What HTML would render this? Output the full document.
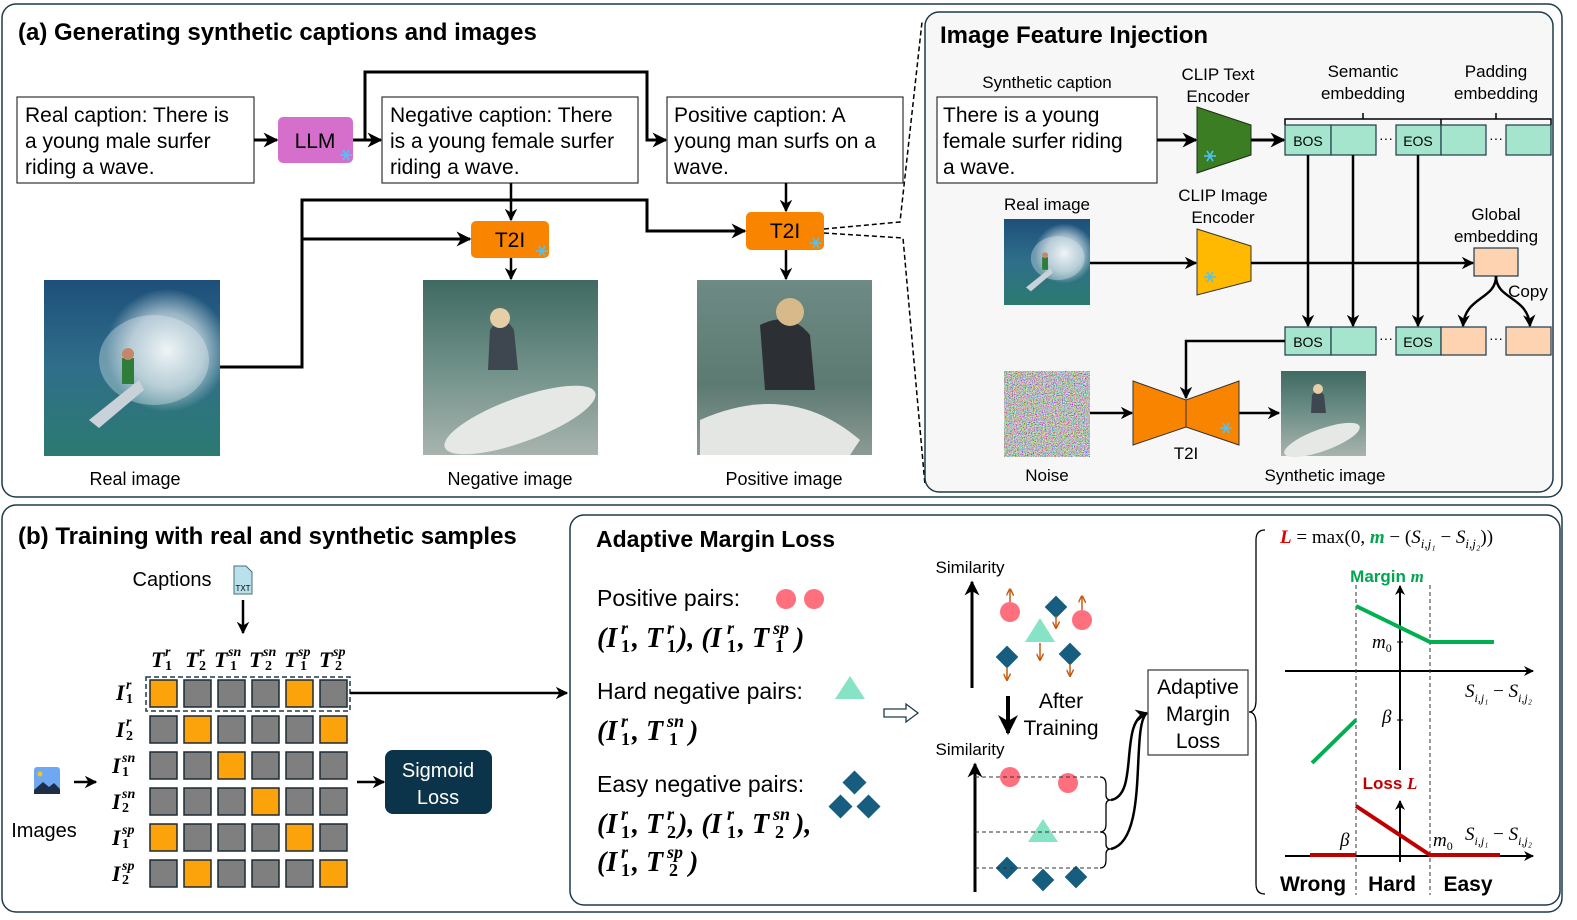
<!DOCTYPE html>
<html><head><meta charset="utf-8"><style>
html,body{margin:0;padding:0;background:#fff;}
svg{display:block;}
text{font-family:"Liberation Sans",sans-serif;fill:#000;}
.m, g.m text{font-family:"Liberation Serif",serif;font-weight:bold;font-style:italic;}
.mr, g.m text.mr{font-family:"Liberation Serif",serif;}
g.m text.mr{font-style:normal;}
</style></head><body>
<svg width="1577" height="920" viewBox="0 0 1577 920" xmlns="http://www.w3.org/2000/svg">
<defs>
<marker id="a" viewBox="0 0 10 10" refX="9" refY="5" markerWidth="5" markerHeight="5" orient="auto-start-reverse"><path d="M0,0 L10,5 L0,10 L3,5z" fill="#000"/></marker>
<marker id="o" viewBox="0 0 10 10" refX="9" refY="5" markerWidth="5" markerHeight="5" orient="auto"><path d="M0,0 L10,5 L0,10" fill="none" stroke="#c55a11" stroke-width="2"/></marker>
<linearGradient id="sea" x1="0" y1="0" x2="0" y2="1"><stop offset="0" stop-color="#1e4f7a"/><stop offset="0.5" stop-color="#2f6f8a"/><stop offset="1" stop-color="#2c7a70"/></linearGradient>
<radialGradient id="spray" cx="0.7" cy="0.4" r="0.35"><stop offset="0" stop-color="#f4f8fa"/><stop offset="0.6" stop-color="#cfdde4" stop-opacity="0.7"/><stop offset="1" stop-color="#cfdde4" stop-opacity="0"/></radialGradient>
<linearGradient id="gw" x1="0" y1="0" x2="0" y2="1"><stop offset="0" stop-color="#3f6a62"/><stop offset="0.5" stop-color="#6f9088"/><stop offset="1" stop-color="#a8b4ae"/></linearGradient>
<linearGradient id="gw2" x1="0" y1="0" x2="0" y2="1"><stop offset="0" stop-color="#6e8a84"/><stop offset="0.6" stop-color="#5c7a72"/><stop offset="1" stop-color="#8d9a95"/></linearGradient>
<filter id="noise" x="0" y="0" width="1" height="1"><feTurbulence type="fractalNoise" baseFrequency="0.9" numOctaves="2" seed="3"/><feColorMatrix type="matrix" values="1.8 0 0 0 -0.4  0 1.8 0 0 -0.4  0 0 1.8 0 -0.4  0 0 0 0 1"/></filter>
<g id="snow"><g stroke="#4fc3f7" stroke-width="1.6"><line x1="-6" y1="0" x2="6" y2="0"/><line x1="-3" y1="-5.2" x2="3" y2="5.2"/><line x1="3" y1="-5.2" x2="-3" y2="5.2"/></g></g>
<g id="real"><rect width="176" height="176" fill="url(#sea)"/><rect width="176" height="176" fill="url(#spray)"/><ellipse cx="110" cy="80" rx="55" ry="45" fill="#e8f0f3" opacity="0.35"/><path d="M45,140 L95,100 L100,110 L55,148z" fill="#c9d2d8"/><rect x="78" y="78" width="12" height="26" fill="#2e7d3a"/><circle cx="84" cy="74" r="6" fill="#c4876a"/></g>
</defs>

<rect x="2" y="4" width="1560" height="493" rx="14" fill="#fff" stroke="#1d3a4a" stroke-width="1.5"/>
<text x="18" y="40" font-size="24" font-weight="bold">(a) Generating synthetic captions and images</text>

<rect x="17" y="97" width="237" height="86" fill="#fff" stroke="#333" stroke-width="1.2"/>
<text font-size="21"><tspan x="25" y="122">Real caption: There is</tspan><tspan x="25" y="148">a young male surfer</tspan><tspan x="25" y="174">riding a wave.</tspan></text>
<rect x="278" y="117" width="75" height="46" rx="5" fill="#d66fcc"/>
<text x="315" y="148" font-size="21" text-anchor="middle">LLM</text>
<use href="#snow" x="346" y="155"/>
<line x1="254" y1="140" x2="277" y2="140" stroke="#000" stroke-width="3" marker-end="url(#a)"/>
<line x1="353" y1="140" x2="381" y2="140" stroke="#000" stroke-width="3" marker-end="url(#a)"/>
<polyline points="365,140 365,72 647,72 647,140 666,140" fill="none" stroke="#000" stroke-width="3" marker-end="url(#a)"/>

<rect x="382" y="97" width="256" height="86" fill="#fff" stroke="#333" stroke-width="1.2"/>
<text font-size="21"><tspan x="390" y="122">Negative caption: There</tspan><tspan x="390" y="148">is a young female surfer</tspan><tspan x="390" y="174">riding a wave.</tspan></text>
<rect x="667" y="97" width="236" height="86" fill="#fff" stroke="#333" stroke-width="1.2"/>
<text font-size="21"><tspan x="674" y="122">Positive caption: A</tspan><tspan x="674" y="148">young man surfs on a</tspan><tspan x="674" y="174">wave.</tspan></text>

<rect x="471" y="221" width="78" height="37" rx="5" fill="#f98400"/>
<text x="510" y="247" font-size="21" text-anchor="middle">T2I</text><use href="#snow" x="542" y="251"/>
<rect x="746" y="212" width="78" height="38" rx="5" fill="#f98400"/>
<text x="785" y="238" font-size="21" text-anchor="middle">T2I</text><use href="#snow" x="816" y="243"/>

<line x1="511" y1="183" x2="511" y2="220" stroke="#000" stroke-width="2.5" marker-end="url(#a)"/>
<line x1="786" y1="183" x2="786" y2="211" stroke="#000" stroke-width="2.5" marker-end="url(#a)"/>
<polyline points="220,367 302,367 302,200 647,200 647,231 745,231" fill="none" stroke="#000" stroke-width="3" marker-end="url(#a)"/>
<line x1="302" y1="239" x2="470" y2="239" stroke="#000" stroke-width="3" marker-end="url(#a)"/>
<line x1="511" y1="258" x2="511" y2="279" stroke="#000" stroke-width="2.5" marker-end="url(#a)"/>
<line x1="786" y1="250" x2="786" y2="279" stroke="#000" stroke-width="2.5" marker-end="url(#a)"/>

<use href="#real" x="44" y="280"/>
<rect x="423" y="280" width="175" height="175" fill="url(#gw)"/>
<ellipse cx="520" cy="420" rx="80" ry="22" fill="#e6e8e6" transform="rotate(-20 520 420)"/>
<path d="M490,330 q12,-20 24,0 l4,40 l-30,0z" fill="#3e4650"/><circle cx="500" cy="318" r="10" fill="#e6cfa6"/>
<rect x="697" y="280" width="175" height="175" fill="url(#gw2)"/>
<path d="M700,420 Q790,380 860,440 L850,455 L700,455z" fill="#e4e6e4"/>
<path d="M760,325 q30,-15 50,10 l5,55 l-50,0z" fill="#2c3034"/><circle cx="790" cy="312" r="14" fill="#d8b98a"/>

<text x="135" y="485" font-size="18" text-anchor="middle">Real image</text>
<text x="510" y="485" font-size="18" text-anchor="middle">Negative image</text>
<text x="784" y="485" font-size="18" text-anchor="middle">Positive image</text>

<polyline points="824,229 900,222 922,22" fill="none" stroke="#000" stroke-width="1.5" stroke-dasharray="5,3"/>
<polyline points="824,233 903,238 925,485" fill="none" stroke="#000" stroke-width="1.5" stroke-dasharray="5,3"/>

<rect x="925" y="12" width="628" height="480" rx="14" fill="#f7f7f7" stroke="#1d3a4a" stroke-width="1.5"/>
<text x="940" y="43" font-size="24" font-weight="bold">Image Feature Injection</text>
<text x="1047" y="88" font-size="17" text-anchor="middle">Synthetic caption</text>
<rect x="937" y="97" width="220" height="86" fill="#fff" stroke="#333" stroke-width="1.2"/>
<text font-size="21"><tspan x="943" y="122">There is a young</tspan><tspan x="943" y="148">female surfer riding</tspan><tspan x="943" y="174">a wave.</tspan></text>
<text font-size="17" text-anchor="middle"><tspan x="1218" y="80">CLIP Text</tspan><tspan x="1218" y="102">Encoder</tspan></text>
<polygon points="1197,107 1251,125 1251,155 1197,173" fill="#3a7d22" stroke="#1e2e1a"/>
<use href="#snow" x="1210" y="156"/>
<line x1="1157" y1="140" x2="1196" y2="140" stroke="#000" stroke-width="3" marker-end="url(#a)"/>
<line x1="1251" y1="140" x2="1284" y2="140" stroke="#000" stroke-width="3" marker-end="url(#a)"/>

<text font-size="17" text-anchor="middle"><tspan x="1363" y="77">Semantic</tspan><tspan x="1363" y="99">embedding</tspan><tspan x="1496" y="77">Padding</tspan><tspan x="1496" y="99">embedding</tspan></text>
<path d="M1285,125 v-6 h156 M1363,119 v-6 M1441,125 v-6 h110 v6 M1496,119 v-6" fill="none" stroke="#000" stroke-width="1.5"/>

<g stroke="#1d3a4a" stroke-width="1.2" fill="#a6e5cd">
<rect x="1285" y="125" width="46" height="30"/><rect x="1331" y="125" width="45" height="30"/>
<rect x="1396" y="125" width="45" height="30"/><rect x="1441" y="125" width="45" height="30"/><rect x="1506" y="125" width="45" height="30"/>
<rect x="1285" y="327" width="46" height="28"/><rect x="1331" y="327" width="45" height="28"/><rect x="1396" y="327" width="45" height="28"/>
<rect x="1441" y="327" width="45" height="28" fill="#fdd3b2"/><rect x="1506" y="327" width="45" height="28" fill="#fdd3b2"/>
<rect x="1474" y="248" width="44" height="28" fill="#fdd3b2"/>
</g>
<text font-size="14" text-anchor="middle"><tspan x="1308" y="146">BOS</tspan><tspan x="1418" y="146">EOS</tspan><tspan x="1308" y="347">BOS</tspan><tspan x="1418" y="347">EOS</tspan></text>
<text font-size="14" text-anchor="middle"><tspan x="1386" y="143">···</tspan><tspan x="1496" y="143">···</tspan><tspan x="1386" y="343">···</tspan><tspan x="1496" y="343">···</tspan></text>

<text x="1047" y="210" font-size="17" text-anchor="middle">Real image</text>
<svg x="1004" y="219" width="86" height="86" viewBox="0 0 176 176"><use href="#real"/></svg>
<text font-size="17" text-anchor="middle"><tspan x="1223" y="201">CLIP Image</tspan><tspan x="1223" y="223">Encoder</tspan></text>
<polygon points="1197,229 1251,246 1251,281 1197,295" fill="#ffb900" stroke="#333"/>
<use href="#snow" x="1210" y="277"/>
<line x1="1090" y1="263" x2="1196" y2="263" stroke="#000" stroke-width="2.5" marker-end="url(#a)"/>
<line x1="1251" y1="263" x2="1473" y2="263" stroke="#000" stroke-width="2.5" marker-end="url(#a)"/>
<text font-size="17" text-anchor="middle"><tspan x="1496" y="220">Global</tspan><tspan x="1496" y="242">embedding</tspan></text>
<g stroke="#000" stroke-width="2.5" fill="none">
<line x1="1308" y1="155" x2="1308" y2="326" marker-end="url(#a)"/>
<line x1="1353" y1="155" x2="1353" y2="326" marker-end="url(#a)"/>
<line x1="1418" y1="155" x2="1418" y2="326" marker-end="url(#a)"/>
<path d="M1496,276 C1496,300 1465,296 1463,326" marker-end="url(#a)"/>
<path d="M1496,276 C1496,300 1528,296 1530,326" marker-end="url(#a)"/>
<polyline points="1285,341 1186,341 1186,398" marker-end="url(#a)"/>
<line x1="1090" y1="413" x2="1132" y2="413" marker-end="url(#a)"/>
<line x1="1239" y1="413" x2="1279" y2="413" marker-end="url(#a)"/>
</g>
<text x="1528" y="297" font-size="17" text-anchor="middle">Copy</text>
<rect x="1004" y="371" width="86" height="86" filter="url(#noise)" fill="#888"/>
<text x="1047" y="481" font-size="17" text-anchor="middle">Noise</text>
<polygon points="1133,381 1186,400 1239,381 1239,445 1186,427 1133,445" fill="#f98400" stroke="#333"/>
<line x1="1186" y1="400" x2="1186" y2="427" stroke="#333"/>
<use href="#snow" x="1226" y="428"/>
<text x="1186" y="459" font-size="17" text-anchor="middle">T2I</text>
<rect x="1281" y="371" width="85" height="85" fill="url(#gw)"/>
<ellipse cx="1322" cy="440" rx="40" ry="11" fill="#e6e8e6" transform="rotate(-20 1322 440)"/>
<path d="M1312,395 q6,-8 12,0 l2,18 l-15,0z" fill="#3e4650"/><circle cx="1318" cy="389" r="5" fill="#e6cfa6"/>
<text x="1325" y="481" font-size="17" text-anchor="middle">Synthetic image</text>

<rect x="2" y="505" width="1560" height="407" rx="14" fill="#fff" stroke="#1d3a4a" stroke-width="1.5"/>
<text x="18" y="544" font-size="24" font-weight="bold">(b) Training with real and synthetic samples</text>
<text x="172" y="586" font-size="20" text-anchor="middle">Captions</text>
<path d="M234,566 h12 l6,6 v22 h-18z" fill="#b9e1ec" stroke="#4a6e7a"/><text x="243" y="591" font-size="8" text-anchor="middle">TXT</text>
<line x1="243" y1="600" x2="243" y2="633" stroke="#000" stroke-width="2.5" marker-end="url(#a)"/>

<g class="m" font-size="22">
<text x="151" y="667">T</text><text x="165" y="656" font-size="14">r</text><text x="165" y="670" font-size="14" class="mr">1</text>
<text x="185" y="667">T</text><text x="199" y="656" font-size="14">r</text><text x="199" y="670" font-size="14" class="mr">2</text>
<text x="214" y="667">T</text><text x="228" y="656" font-size="14">sn</text><text x="230" y="670" font-size="14" class="mr">1</text>
<text x="249" y="667">T</text><text x="263" y="656" font-size="14">sn</text><text x="265" y="670" font-size="14" class="mr">2</text>
<text x="284" y="667">T</text><text x="298" y="656" font-size="14">sp</text><text x="300" y="670" font-size="14" class="mr">1</text>
<text x="319" y="667">T</text><text x="333" y="656" font-size="14">sp</text><text x="335" y="670" font-size="14" class="mr">2</text>
<text x="116" y="700">I</text><text x="126" y="689" font-size="14">r</text><text x="126" y="703" font-size="14" class="mr">1</text>
<text x="116" y="737">I</text><text x="126" y="726" font-size="14">r</text><text x="126" y="740" font-size="14" class="mr">2</text>
<text x="112" y="773">I</text><text x="122" y="762" font-size="14">sn</text><text x="122" y="776" font-size="14" class="mr">1</text>
<text x="112" y="809">I</text><text x="122" y="798" font-size="14">sn</text><text x="122" y="812" font-size="14" class="mr">2</text>
<text x="112" y="845">I</text><text x="122" y="834" font-size="14">sp</text><text x="122" y="848" font-size="14" class="mr">1</text>
<text x="112" y="881">I</text><text x="122" y="870" font-size="14">sp</text><text x="122" y="884" font-size="14" class="mr">2</text>
</g>

<g stroke="#1d2a33" stroke-width="1.5" fill="#7f7f7f">
<rect x="150" y="680" width="27" height="27" fill="#fca20a"/><rect x="184" y="680" width="27" height="27"/><rect x="218" y="680" width="27" height="27"/><rect x="252" y="680" width="27" height="27"/><rect x="286" y="680" width="27" height="27" fill="#fca20a"/><rect x="320" y="680" width="27" height="27"/>
<rect x="150" y="716" width="27" height="27"/><rect x="184" y="716" width="27" height="27" fill="#fca20a"/><rect x="218" y="716" width="27" height="27"/><rect x="252" y="716" width="27" height="27"/><rect x="286" y="716" width="27" height="27"/><rect x="320" y="716" width="27" height="27" fill="#fca20a"/>
<rect x="150" y="752" width="27" height="27"/><rect x="184" y="752" width="27" height="27"/><rect x="218" y="752" width="27" height="27" fill="#fca20a"/><rect x="252" y="752" width="27" height="27"/><rect x="286" y="752" width="27" height="27"/><rect x="320" y="752" width="27" height="27"/>
<rect x="150" y="788" width="27" height="27"/><rect x="184" y="788" width="27" height="27"/><rect x="218" y="788" width="27" height="27"/><rect x="252" y="788" width="27" height="27" fill="#fca20a"/><rect x="286" y="788" width="27" height="27"/><rect x="320" y="788" width="27" height="27"/>
<rect x="150" y="824" width="27" height="27" fill="#fca20a"/><rect x="184" y="824" width="27" height="27"/><rect x="218" y="824" width="27" height="27"/><rect x="252" y="824" width="27" height="27"/><rect x="286" y="824" width="27" height="27" fill="#fca20a"/><rect x="320" y="824" width="27" height="27"/>
<rect x="150" y="860" width="27" height="27"/><rect x="184" y="860" width="27" height="27" fill="#fca20a"/><rect x="218" y="860" width="27" height="27"/><rect x="252" y="860" width="27" height="27"/><rect x="286" y="860" width="27" height="27"/><rect x="320" y="860" width="27" height="27" fill="#fca20a"/>
</g>
<rect x="146" y="677" width="204" height="34" fill="none" stroke="#1d3a4a" stroke-width="1.5" stroke-dasharray="5,3"/>
<line x1="350" y1="693" x2="567" y2="693" stroke="#000" stroke-width="2.5" marker-end="url(#a)"/>

<rect x="34" y="767" width="26" height="27" rx="3" fill="#6fa8f2"/><circle cx="40" cy="774" r="2.5" fill="#f5c518"/><path d="M34,790 l9,-8 l6,5 l5,-4 l6,6 v5 h-26z" fill="#1e2e46"/>
<line x1="74" y1="782" x2="96" y2="782" stroke="#000" stroke-width="2.5" marker-end="url(#a)"/>
<text x="44" y="837" font-size="20" text-anchor="middle">Images</text>
<line x1="357" y1="782" x2="384" y2="782" stroke="#000" stroke-width="2.5" marker-end="url(#a)"/>
<rect x="385" y="750" width="107" height="64" rx="8" fill="#0b3349"/>
<text font-size="20" text-anchor="middle"><tspan x="438" y="777" style="fill:#fff">Sigmoid</tspan><tspan x="438" y="804" style="fill:#fff">Loss</tspan></text>

<rect x="570" y="515" width="990" height="390" rx="14" fill="#fff" stroke="#1d3a4a" stroke-width="1.5"/>
<text x="596" y="547" font-size="23" font-weight="bold">Adaptive Margin Loss</text>
<text x="597" y="606" font-size="23">Positive pairs:</text>
<circle cx="786" cy="599" r="10" fill="#ff707f"/><circle cx="814" cy="599" r="10" fill="#ff707f"/>

<g class="m" font-size="28">
<text x="597" y="647">(I</text><text x="621" y="634" font-size="18">r</text><text x="621" y="652" font-size="18" class="mr">1</text>
<text x="632" y="647">, T</text><text x="667" y="634" font-size="18">r</text><text x="667" y="652" font-size="18" class="mr">1</text>
<text x="678" y="647">), (I</text><text x="727" y="634" font-size="18">r</text><text x="727" y="652" font-size="18" class="mr">1</text>
<text x="738" y="647">, T</text><text x="773" y="634" font-size="18">sp</text><text x="775" y="652" font-size="18" class="mr">1</text>
<text x="795" y="647">)</text>

<text x="597" y="740">(I</text><text x="621" y="727" font-size="18">r</text><text x="621" y="745" font-size="18" class="mr">1</text>
<text x="632" y="740">, T</text><text x="667" y="727" font-size="18">sn</text><text x="669" y="745" font-size="18" class="mr">1</text>
<text x="689" y="740">)</text>

<text x="597" y="833">(I</text><text x="621" y="820" font-size="18">r</text><text x="621" y="838" font-size="18" class="mr">1</text>
<text x="632" y="833">, T</text><text x="667" y="820" font-size="18">r</text><text x="667" y="838" font-size="18" class="mr">2</text>
<text x="678" y="833">), (I</text><text x="727" y="820" font-size="18">r</text><text x="727" y="838" font-size="18" class="mr">1</text>
<text x="738" y="833">, T</text><text x="773" y="820" font-size="18">sn</text><text x="775" y="838" font-size="18" class="mr">2</text>
<text x="795" y="833">),</text>

<text x="597" y="871">(I</text><text x="621" y="858" font-size="18">r</text><text x="621" y="876" font-size="18" class="mr">1</text>
<text x="632" y="871">, T</text><text x="667" y="858" font-size="18">sp</text><text x="669" y="876" font-size="18" class="mr">2</text>
<text x="689" y="871">)</text>
</g>

<text x="597" y="699" font-size="23">Hard negative pairs:</text>
<polygon points="850,676 865,699 835,699" fill="#86e3c5"/>
<text x="597" y="792" font-size="23">Easy negative pairs:</text>
<g fill="#165d80"><rect x="846" y="774" width="17" height="17" transform="rotate(45 854.5 782.5)"/><rect x="832" y="798" width="17" height="17" transform="rotate(45 840.5 806.5)"/><rect x="860" y="798" width="17" height="17" transform="rotate(45 868.5 806.5)"/></g>
<path d="M884,709 h22 v-5 l12,9 l-12,9 v-5 h-22z" fill="#fff" stroke="#1d3a4a" stroke-width="1.3"/>

<text x="970" y="573" font-size="17" text-anchor="middle">Similarity</text>
<line x1="972" y1="688" x2="972" y2="582" stroke="#000" stroke-width="3" marker-end="url(#a)"/>
<g fill="#ff707f"><circle cx="1010" cy="612" r="10"/><circle cx="1082" cy="620" r="10"/><circle cx="1010" cy="777" r="10"/><circle cx="1068" cy="783" r="10"/></g>
<g fill="#86e3c5"><polygon points="1040,618 1055,642 1025,642"/><polygon points="1043,819 1058,842 1028,842"/></g>
<g fill="#165d80">
<rect x="1048" y="599" width="16" height="16" transform="rotate(45 1056 607)"/>
<rect x="999" y="649" width="16" height="16" transform="rotate(45 1007 657)"/>
<rect x="1062" y="646" width="16" height="16" transform="rotate(45 1070 654)"/>
<rect x="999" y="860" width="16" height="16" transform="rotate(45 1007 868)"/>
<rect x="1035" y="872" width="16" height="16" transform="rotate(45 1043 880)"/>
<rect x="1068" y="869" width="16" height="16" transform="rotate(45 1076 877)"/>
</g>
<g stroke="#c55a11" stroke-width="1.5">
<line x1="1010" y1="602" x2="1010" y2="589" marker-end="url(#o)"/><line x1="1082" y1="610" x2="1082" y2="596" marker-end="url(#o)"/>
<line x1="1040" y1="643" x2="1040" y2="660" marker-end="url(#o)"/><line x1="1056" y1="616" x2="1056" y2="628" marker-end="url(#o)"/>
<line x1="1007" y1="667" x2="1007" y2="680" marker-end="url(#o)"/><line x1="1070" y1="664" x2="1070" y2="676" marker-end="url(#o)"/>
</g>
<line x1="1008" y1="696" x2="1008" y2="733" stroke="#000" stroke-width="4" marker-end="url(#a)"/>
<text font-size="21" text-anchor="middle"><tspan x="1061" y="708">After</tspan><tspan x="1061" y="735">Training</tspan></text>
<text x="970" y="755" font-size="17" text-anchor="middle">Similarity</text>
<line x1="975" y1="892" x2="975" y2="764" stroke="#000" stroke-width="3" marker-end="url(#a)"/>
<g stroke="#333" stroke-dasharray="4,3" stroke-width="1"><line x1="975" y1="777" x2="1100" y2="777"/><line x1="975" y1="832" x2="1100" y2="832"/><line x1="975" y1="868" x2="1100" y2="868"/></g>
<path d="M1100,777 q6,0 6,8 v10 q0,5 5,5 q-5,0 -5,5 v19 q0,8 -6,8 M1100,832 q6,0 6,6 v6 q0,5 5,5 q-5,0 -5,5 v6 q0,8 -6,8" fill="none" stroke="#000" stroke-width="1.3"/>
<path d="M1111,800 C1140,795 1118,720 1147,713" fill="none" stroke="#000" stroke-width="2.5" marker-end="url(#a)"/>
<path d="M1111,849 C1150,840 1130,725 1147,713" fill="none" stroke="#000" stroke-width="2.5"/>
<rect x="1148" y="670" width="100" height="85" fill="#fff" stroke="#333" stroke-width="1.2"/>
<text font-size="21" text-anchor="middle"><tspan x="1198" y="694">Adaptive</tspan><tspan x="1198" y="721">Margin</tspan><tspan x="1198" y="748">Loss</tspan></text>
<path d="M1265,530 q-9,0 -9,10 v160 q0,12 -7,12 q7,0 7,12 v160 q0,10 9,10" fill="none" stroke="#000" stroke-width="1.3"/>

<text x="1280" y="543" font-size="19" class="mr"><tspan class="m" style="fill:#e00000">L</tspan> = max(0, <tspan class="m" style="fill:#00a650">m</tspan> − (<tspan font-style="italic">S</tspan><tspan font-size="13" font-style="italic" dy="5">i,j₁</tspan><tspan dy="-5"> − </tspan><tspan font-style="italic">S</tspan><tspan font-size="13" font-style="italic" dy="5">i,j₂</tspan><tspan dy="-5">))</tspan></text>

<text x="1387" y="582" font-size="17" font-weight="bold" text-anchor="middle" style="fill:#00a650">Margin <tspan class="m" style="fill:#00a650">m</tspan></text>
<line x1="1400" y1="770" x2="1400" y2="586" stroke="#000" stroke-width="2" marker-end="url(#a)"/>
<line x1="1285" y1="671" x2="1533" y2="671" stroke="#000" stroke-width="2" marker-end="url(#a)"/>
<g stroke="#333" stroke-dasharray="4,3" stroke-width="1"><line x1="1356" y1="585" x2="1356" y2="895"/><line x1="1430" y1="585" x2="1430" y2="895"/></g>
<polyline points="1356,606 1430,642 1494,642" fill="none" stroke="#00b050" stroke-width="4"/>
<line x1="1312" y1="763" x2="1356" y2="720" stroke="#00b050" stroke-width="4"/>
<line x1="1397" y1="642" x2="1403" y2="642" stroke="#000"/><line x1="1397" y1="720" x2="1403" y2="720" stroke="#000"/>
<text x="1372" y="648" font-size="19" class="mr" font-style="italic">m<tspan font-size="12" dy="4" font-style="normal">0</tspan></text>
<text x="1382" y="723" font-size="19" class="mr" font-style="italic">β</text>
<text x="1465" y="697" font-size="19" class="mr" font-style="italic">S<tspan font-size="12" dy="5">i,j₁</tspan><tspan dy="-5" font-style="normal"> − </tspan>S<tspan font-size="12" dy="5">i,j₂</tspan></text>

<text x="1390" y="789" font-size="17" font-weight="bold" text-anchor="middle" style="fill:#c00000">Loss <tspan class="m" style="fill:#c00000">L</tspan></text>
<line x1="1400" y1="862" x2="1400" y2="801" stroke="#000" stroke-width="2" marker-end="url(#a)"/>
<line x1="1285" y1="856" x2="1533" y2="856" stroke="#000" stroke-width="2" marker-end="url(#a)"/>
<line x1="1310" y1="855" x2="1356" y2="855" stroke="#c00000" stroke-width="4"/>
<polyline points="1356,806 1430,855 1500,855" fill="none" stroke="#c00000" stroke-width="4"/>
<text x="1340" y="846" font-size="19" class="mr" font-style="italic">β</text>
<text x="1433" y="846" font-size="19" class="mr" font-style="italic">m<tspan font-size="12" dy="4" font-style="normal">0</tspan></text>
<text x="1465" y="840" font-size="19" class="mr" font-style="italic">S<tspan font-size="12" dy="5">i,j₁</tspan><tspan dy="-5" font-style="normal"> − </tspan>S<tspan font-size="12" dy="5">i,j₂</tspan></text>
<text font-size="21" font-weight="bold" text-anchor="middle"><tspan x="1313" y="891">Wrong</tspan><tspan x="1392" y="891">Hard</tspan><tspan x="1468" y="891">Easy</tspan></text>
</svg>
</body></html>
